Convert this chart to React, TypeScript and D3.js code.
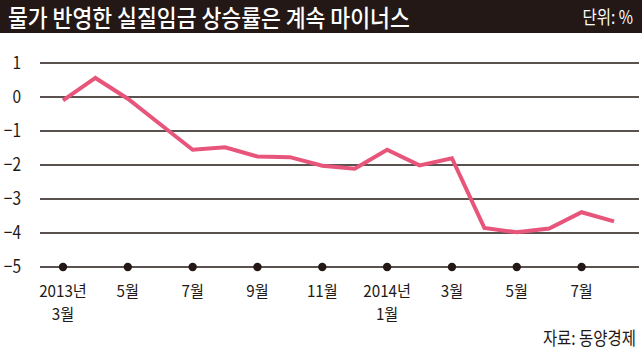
import * as d3 from 'd3';

const months = [
  '2013-03', '2013-04', '2013-05', '2013-06', '2013-07', '2013-08', '2013-09', '2013-10', '2013-11',
  '2013-12', '2014-01', '2014-02', '2014-03', '2014-04', '2014-05', '2014-06', '2014-07', '2014-08'
];
const realWageGrowth = [
  -0.1, 0.56, -0.05, -0.8, -1.55, -1.48, -1.75, -1.77, -2.02,
  -2.11, -1.55, -2.01, -1.8, -3.85, -3.98, -3.87, -3.39, -3.66
];
const yTicks = [1, 0, -1, -2, -3, -4, -5];
const xTickMonths = ['2013-03', '2013-05', '2013-07', '2013-09', '2013-11', '2014-01', '2014-03', '2014-05', '2014-07'];
const xTickLabels = [['2013년', '3월'], ['5월'], ['7월'], ['9월'], ['11월'], ['2014년', '1월'], ['3월'], ['5월'], ['7월']];

const title = '물가 반영한 실질임금 상승률은 계속 마이너스';
const unitText = '단위: %';
const sourceText = '자료: 동양경제';

const W = 644;
const H = 354;
const DARK = '#231815';
const PINK = '#e8557b';
const FONT = "'Noto Sans CJK KR', 'Noto Sans', sans-serif";

function Label({ x, y, anchor, size, fill, weight, squeeze, children }: any) {
  return (
    <text
      transform={`translate(${x},${y}) scale(${squeeze ?? 0.86},1)`}
      textAnchor={anchor}
      fontSize={size}
      fill={fill}
      fontWeight={weight || 400}
      fontFamily={FONT}
    >
      {children}
    </text>
  );
}

export default function App() {
  const xScale = d3
    .scalePoint<string>()
    .domain(months)
    .range([63, 614]);
  const yScale = d3.scaleLinear().domain([-5, 1]).range([267, 63]);

  const linePath = d3
    .line<number>()
    .x((_, i) => xScale(months[i])!)
    .y((v) => yScale(v))(realWageGrowth);

  return (
    <svg
      width={W}
      height={H}
      style={{ position: 'absolute', left: 0, top: 0, background: '#fff' }}
    >
      <rect x={0} y={0} width={642} height={33} fill={DARK} />
      <Label x={8} y={27} anchor="start" size={24} fill="#fff" weight={500} squeeze={0.9}>
        {title}
      </Label>
      <Label x={633} y={24} anchor="end" size={18} fill="#fff">
        {unitText}
      </Label>

      <g>
        {yTicks.map((t) => (
          <g key={t}>
            <line x1={40} x2={639} y1={yScale(t)} y2={yScale(t)} stroke={DARK} strokeWidth={1.3} />
            <Label x={21} y={yScale(t) + 6} anchor="end" size={18} fill={DARK}>
              {t < 0 ? `\u2212${Math.abs(t)}` : `${t}`}
            </Label>
          </g>
        ))}
      </g>

      <path
        d={linePath ?? ''}
        fill="none"
        stroke={PINK}
        strokeWidth={4}
        strokeLinejoin="miter"
      />

      <g>
        {xTickMonths.map((m, i) => (
          <g key={m}>
            <circle cx={xScale(m)!} cy={yScale(-5)} r={4.2} fill={DARK} />
            {xTickLabels[i].map((s, j) => (
              <Label key={j} x={xScale(m)!} y={296.5 + j * 23.5} anchor="middle" size={16} fill={DARK} squeeze={0.95}>
                {s}
              </Label>
            ))}
          </g>
        ))}
      </g>

      <Label x={636} y={345} anchor="end" size={18} fill={DARK}>
        {sourceText}
      </Label>
    </svg>
  );
}
